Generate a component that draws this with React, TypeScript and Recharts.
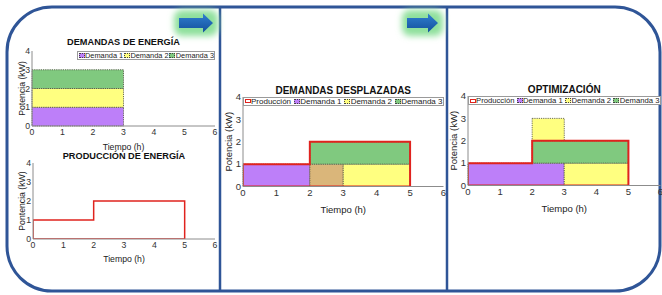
import React from "react";
import {
  ComposedChart,
  Line,
  XAxis,
  YAxis,
  ReferenceArea,
  Label,
} from "recharts";

// ticks shared by every panel
const X_TICKS = [0, 1, 2, 3, 4, 5, 6];
const Y_TICKS = [0, 1, 2, 3, 4];

type Bloque = { serie: string; t0: number; t1: number; p0: number; p1: number };
type Punto = { t: number; p: number };

// demands before shifting (kW over hours)
const demandasEnergia: Bloque[] = [
  { serie: "Demanda 1", t0: 0, t1: 3, p0: 0, p1: 1 },
  { serie: "Demanda 2", t0: 0, t1: 3, p0: 1, p1: 2 },
  { serie: "Demanda 3", t0: 0, t1: 3, p0: 2, p1: 3 },
];

// production outline, closed path
const produccion: Punto[] = [
  { t: 0, p: 0 },
  { t: 0, p: 1 },
  { t: 2, p: 1 },
  { t: 2, p: 2 },
  { t: 5, p: 2 },
  { t: 5, p: 0 },
  { t: 0, p: 0 },
];

const demandasDesplazadas: Bloque[] = [
  { serie: "Demanda 1", t0: 0, t1: 2, p0: 0, p1: 1 },
  { serie: "Solape", t0: 2, t1: 3, p0: 0, p1: 1 },
  { serie: "Demanda 2", t0: 3, t1: 5, p0: 0, p1: 1 },
  { serie: "Demanda 3", t0: 2, t1: 5, p0: 1, p1: 2 },
];

const optimizacion: Bloque[] = [
  { serie: "Demanda 1", t0: 0, t1: 3, p0: 0, p1: 1 },
  { serie: "Demanda 2", t0: 3, t1: 5, p0: 0, p1: 1 },
  { serie: "Demanda 2", t0: 2, t1: 3, p0: 2, p1: 3 },
  { serie: "Demanda 3", t0: 2, t1: 5, p0: 1, p1: 2 },
];

const COLORS: Record<string, string> = {
  Producción: "#ffffff",
  "Demanda 1": "#bd7ff9",
  "Demanda 2": "#ffff80",
  "Demanda 3": "#80c97f",
  Solape: "#dab67a",
};

const RED = "#e0231e";
const FRAME = "#2f5597";
const FONT = "'Liberation Sans', Arial, Helvetica, sans-serif";

type Box = { x0: number; y0: number; x1: number; y1: number };

type PanelProps = {
  box: Box;
  title: string;
  titleY: number;
  yLabel: string;
  yLabelX: number;
  font: number;
  titleFont: number;
  xAxisH: number;
  rects: Bloque[];
  prod?: Punto[];
  prodWidth?: number;
  legend?: string[];
  legendLeft?: number;
  legendFont?: number;
};

const PL = 40;
const PT = 22;
const PR = 10;
const PB = 32;

function Leyenda({ items, left, top, width, font }: any) {
  return (
    <div
      style={{
        position: "absolute",
        left,
        top,
        width: width - 2,
        height: 7,
        border: "1px solid #9a9a9a",
        background: "#fff",
        display: "flex",
        alignItems: "center",
        justifyContent: "space-between",
        fontSize: font,
        lineHeight: "7px",
        color: "#222",
        whiteSpace: "nowrap",
        overflow: "hidden",
        boxSizing: "content-box",
      }}
    >
      {items.map((s: string) => (
        <span key={s} style={{ display: "flex", alignItems: "center" }}>
          <span
            style={{
              display: "inline-block",
              width: s === "Producción" ? 4 : 4,
              height: s === "Producción" ? 2 : 3,
              background: COLORS[s],
              border:
                s === "Producción" ? `1.5px solid ${RED}` : "1px dotted #444",
              marginRight: 0.5,
              marginLeft: 0.5,
            }}
          />
          {s}
        </span>
      ))}
    </div>
  );
}

function Panel(p: PanelProps) {
  const { box } = p;
  const w = box.x1 - box.x0 + PL + PR;
  const h = box.y1 - box.y0 + PT + PB;
  const axisStroke = "#8c8c8c";
  const tickStyle = { fill: "#333", fontSize: p.font, fontFamily: FONT };
  return (
    <>
      <div
        style={{
          position: "absolute",
          left: box.x0 - PL,
          top: box.y0 - PT,
          width: w,
          height: h,
        }}
      >
        <ComposedChart
          width={w}
          height={h}
          data={p.prod ?? []}
          margin={{ top: PT, right: PR, left: PL - 20, bottom: PB - p.xAxisH }}
        >
          <XAxis
            dataKey="t"
            type="number"
            domain={[0, 6]}
            ticks={X_TICKS}
            interval={0}
            tickSize={0}
            tickMargin={3}
            stroke={axisStroke}
            tick={tickStyle}
            height={p.xAxisH}
            allowDataOverflow
          >
            <Label
              value="Tiempo (h)"
              position="insideBottom"
              offset={0}
              style={{ fontSize: p.font, fill: "#222", fontFamily: FONT }}
            />
          </XAxis>
          <XAxis
            xAxisId="top"
            orientation="top"
            type="number"
            domain={[0, 6]}
            tick={false}
            tickLine={false}
            height={0}
            stroke={axisStroke}
          />
          <YAxis
            type="number"
            domain={[0, 4]}
            ticks={Y_TICKS}
            interval={0}
            tickSize={0}
            tickMargin={2}
            stroke={axisStroke}
            tick={tickStyle}
            width={20}
            allowDataOverflow
          >
            <Label
              value={p.yLabel}
              angle={-90}
              position="insideLeft"
              offset={p.yLabelX - (box.x0 - 20)}
              style={{
                textAnchor: "middle",
                fontSize: p.font,
                fill: "#222",
                fontFamily: FONT,
              }}
            />
          </YAxis>
          <YAxis
            yAxisId="right"
            orientation="right"
            type="number"
            domain={[0, 4]}
            tick={false}
            tickLine={false}
            width={0}
            stroke={axisStroke}
          />
          {p.rects.map((r, i) => (
            <ReferenceArea
              key={i}
              x1={r.t0}
              x2={r.t1}
              y1={r.p0}
              y2={r.p1}
              fill={COLORS[r.serie]}
              fillOpacity={1}
              stroke="#4a4a3a"
              strokeWidth={0.8}
              strokeDasharray="1.2 1"
              ifOverflow="visible"
            />
          ))}
          {p.prod && (
            <Line
              dataKey="p"
              type="linear"
              stroke={RED}
              strokeWidth={p.prodWidth ?? 1.5}
              dot={false}
              activeDot={false}
              isAnimationActive={false}
            />
          )}
        </ComposedChart>
      </div>
      <div
        style={{
          position: "absolute",
          left: box.x0 - 60,
          width: box.x1 - box.x0 + 120,
          top: p.titleY - p.titleFont * 0.6,
          textAlign: "center",
          fontWeight: "bold",
          fontSize: p.titleFont,
          lineHeight: `${p.titleFont * 1.2}px`,
          fontFamily: FONT,
          color: "#111",
        }}
      >
        {p.title}
      </div>
      {p.legend && (
        <Leyenda
          items={p.legend}
          left={p.legendLeft ?? box.x0}
          top={box.y0}
          width={box.x1 - (p.legendLeft ?? box.x0)}
          font={p.legendFont}
        />
      )}
    </>
  );
}

function Flecha({ x, tip, y }: { x: number; tip: number; y: number }) {
  const base = tip - 10;
  return (
    <g>
      <rect
        x={x - 5}
        y={y - 13}
        width={tip - x + 10}
        height={26}
        rx={8}
        fill="#8fe09c"
        filter="url(#glow)"
      />
      <polygon
        points={`${x},${y - 5} ${base},${y - 5} ${base},${y - 9.5} ${tip},${y} ${base},${y + 9.5} ${base},${y + 5} ${x},${y + 5}`}
        fill="url(#azul)"
      />
    </g>
  );
}

export default function App() {
  return (
    <div
      style={{
        position: "absolute",
        left: 0,
        top: 0,
        width: 662,
        height: 295,
        background: "#fff",
        overflow: "hidden",
        fontFamily: FONT,
      }}
    >
      <svg
        width={662}
        height={295}
        style={{ position: "absolute", left: 0, top: 0 }}
      >
        <defs>
          <filter id="glow" x="-50%" y="-50%" width="200%" height="200%">
            <feGaussianBlur stdDeviation="3" />
          </filter>
          <linearGradient id="azul" x1="0" y1="0" x2="0" y2="1">
            <stop offset="0%" stopColor="#2f7fd0" />
            <stop offset="100%" stopColor="#14509c" />
          </linearGradient>
        </defs>
        <path
          d="M 52 7 H 615 A 45 45 0 0 1 660 52 V 246 A 45 45 0 0 1 615 291 H 52 A 45 45 0 0 1 7 246 V 52 A 45 45 0 0 1 52 7 Z"
          fill="none"
          stroke={FRAME}
          strokeWidth={3}
        />
        <line x1={220} y1={7} x2={220} y2={291} stroke={FRAME} strokeWidth={2.5} />
        <line x1={447} y1={7} x2={447} y2={291} stroke={FRAME} strokeWidth={2.5} />
        <Flecha x={179} tip={213} y={23} />
        <Flecha x={407} tip={438} y={23} />
      </svg>

      <Panel
        box={{ x0: 32, y0: 51, x1: 215, y1: 126 }}
        title="DEMANDAS DE ENERGÍA"
        titleY={43}
        yLabel="Potencia (kW)"
        yLabelX={22}
        font={8.7}
        titleFont={9.2}
        xAxisH={24}
        rects={demandasEnergia}
        legend={["Demanda 1", "Demanda 2", "Demanda 3"]}
        legendLeft={77}
        legendFont={7.4}
      />
      <Panel
        box={{ x0: 33, y0: 163, x1: 215, y1: 239 }}
        title="PRODUCCIÓN DE ENERGÍA"
        titleY={156.5}
        yLabel="Pontencia (kW)"
        yLabelX={21.5}
        font={8.7}
        titleFont={9.2}
        xAxisH={23}
        rects={[]}
        prod={produccion}
        prodWidth={1.5}
      />
      <Panel
        box={{ x0: 243, y0: 96.5, x1: 443.5, y1: 186 }}
        title="DEMANDAS DESPLAZADAS"
        titleY={90.5}
        yLabel="Potencia (kW)"
        yLabelX={228.5}
        font={9.5}
        titleFont={10}
        xAxisH={26}
        rects={demandasDesplazadas}
        prod={produccion}
        prodWidth={2}
        legend={["Producción", "Demanda 1", "Demanda 2", "Demanda 3"]}
        legendFont={8}
      />
      <Panel
        box={{ x0: 468, y0: 96, x1: 660.5, y1: 185.5 }}
        title="OPTIMIZACIÓN"
        titleY={90}
        yLabel="Potencia (kW)"
        yLabelX={454}
        font={9.5}
        titleFont={10}
        xAxisH={26.5}
        rects={optimizacion}
        prod={produccion}
        prodWidth={2}
        legend={["Producción", "Demanda 1", "Demanda 2", "Demanda 3"]}
        legendFont={7.7}
      />
    </div>
  );
}
